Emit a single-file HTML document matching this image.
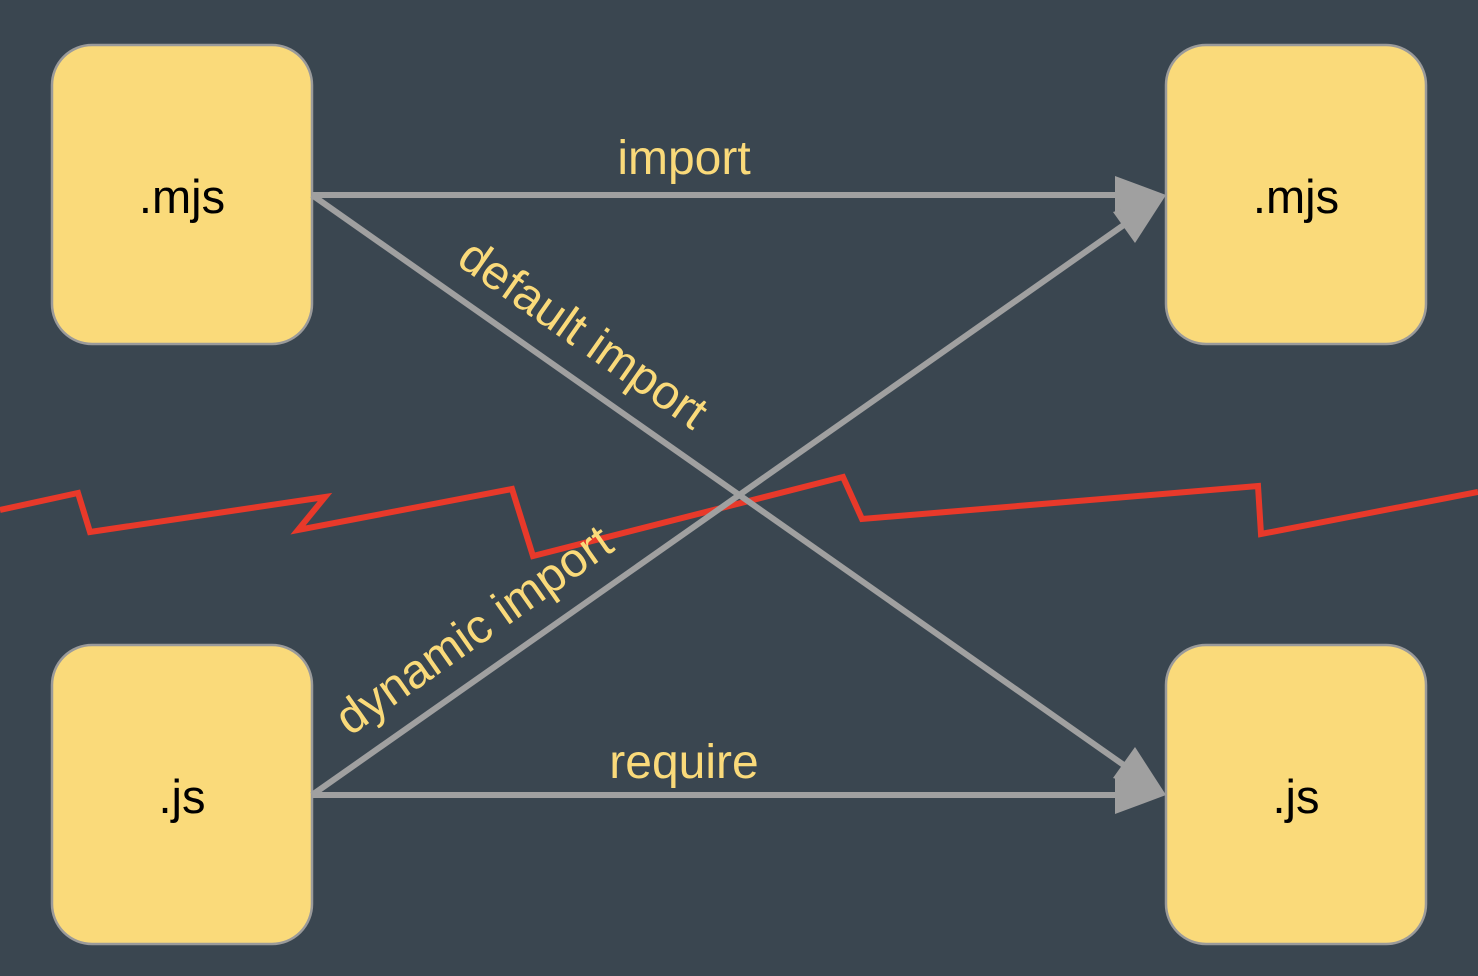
<!DOCTYPE html>
<html><head><meta charset="utf-8"><style>
html,body{margin:0;padding:0;background:#3a4650;}
svg{display:block;}
text{font-family:"Liberation Sans",Arial,sans-serif;}
</style></head><body>
<svg width="1478" height="976" viewBox="0 0 1478 976" xmlns="http://www.w3.org/2000/svg">
<rect width="1478" height="976" fill="#3a4650"/>
<polyline points="0,510 78,493 90,532 325,497 298,530 512,489 533,556 843,477 862,519 1258,486 1261,534 1478,492" fill="none" stroke="#e8392a" stroke-width="6"/>
<g fill="#fada7a" stroke="#9a9a9a" stroke-width="2.5">
<rect x="52" y="45" width="260" height="299" rx="40"/>
<rect x="1166" y="45" width="260" height="299" rx="40"/>
<rect x="52" y="645" width="260" height="299" rx="40"/>
<rect x="1166" y="645" width="260" height="299" rx="40"/>
</g>
<g stroke="#a0a0a0" stroke-width="6" fill="none">
<line x1="312" y1="195" x2="1120" y2="195"/>
<line x1="312" y1="795" x2="1120" y2="795"/>
<line x1="312" y1="195" x2="1128" y2="768"/>
<line x1="312" y1="795" x2="1128" y2="222"/>
</g>
<g fill="#a0a0a0">
<polygon points="1166,195 1115,176 1115,214"/>
<polygon points="1166,795 1115,776 1115,814"/>
<polygon points="1166,795 1113,778 1135,747"/>
<polygon points="1166,195 1135,243 1113,212"/>
</g>
<g font-size="47" fill="#000" text-anchor="middle">
<text x="182" y="213">.mjs</text>
<text x="1296" y="213">.mjs</text>
<text x="182" y="813">.js</text>
<text x="1296" y="813">.js</text>
</g>
<g font-size="48" fill="#fada7a" text-anchor="middle">
<text x="684" y="174">import</text>
<text x="684" y="778">require</text>
<text transform="translate(574,347) rotate(35.1)">default import</text>
<text transform="translate(483,643) rotate(-35.1)">dynamic import</text>
</g>
</svg>
</body></html>
